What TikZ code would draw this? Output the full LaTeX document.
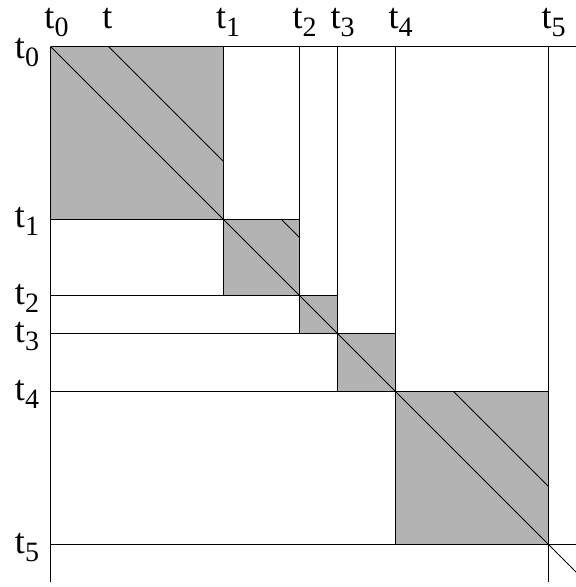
\documentclass[tikz,border=0pt]{standalone}
\usepackage{fontspec}
\usepackage{xcolor}
\setmainfont{Liberation Serif}
\definecolor{blockgray}{RGB}{179,179,179}
\newcommand{\tlab}[1]{t\rlap{\raisebox{-8pt}{\fontsize{28}{28}\selectfont #1}}}

\begin{document}
\begin{tikzpicture}[x=1pt,y=-1pt,line width=0.9pt,
  lab/.style={anchor=base,inner sep=0pt,font=\fontsize{36}{36}\selectfont}]
		\useasboundingbox (0,0) rectangle (576,587);
		\begin{scope}[shift={(50.5,46.5)}]
		% shaded diagonal blocks
		\foreach \a/\b in {0/172.5,172.5/249,249/287,287/345,345/498}
			\fill[blockgray] (\a,\a) rectangle (\b,\b);
		% line parallel to the diagonal, inside the blocks
		\foreach \a/\b/\c/\d in {58/0/172.5/114.5,230.5/172.5/249/191,403/345/498/440}
			\draw (\a,\b)--(\c,\d);
		% axes and staircase
		\draw (0,0)--(525.5,0);
		\draw (0,0)--(0,535.5);
		\foreach \a/\b in {172.5/249,249/287,287/345,345/498}{
			\draw (\a,0)--(\a,\b);
			\draw (0,\a)--(\b,\a);
		}
		\draw (498,0)--(498,535.5);
		\draw (0,498)--(525.5,498);
		\draw (0,0)--(525.5,525.5);
		% labels on top
		\node[lab] (top0) at (-1,-18.5) {\tlab{0}};
		\node[lab] (topt) at (57,-18.5) {t};
		\foreach \a/\n in {172.5/1,249/2,287/3,345/4,498/5}
			\node[lab] (top\n) at (\a-2,-18.5) {\tlab{\n}};
		% labels on the left
		\node[lab] (left0) at (-30.5,11.5) {\tlab{0}};
		\foreach \a/\n in {172.5/1,249/2,287/3,345/4,498/5}
			\node[lab] (left\n) at (-30.5,\a+8.5) {\tlab{\n}};
		\end{scope}
		\end{tikzpicture}
\end{document}
